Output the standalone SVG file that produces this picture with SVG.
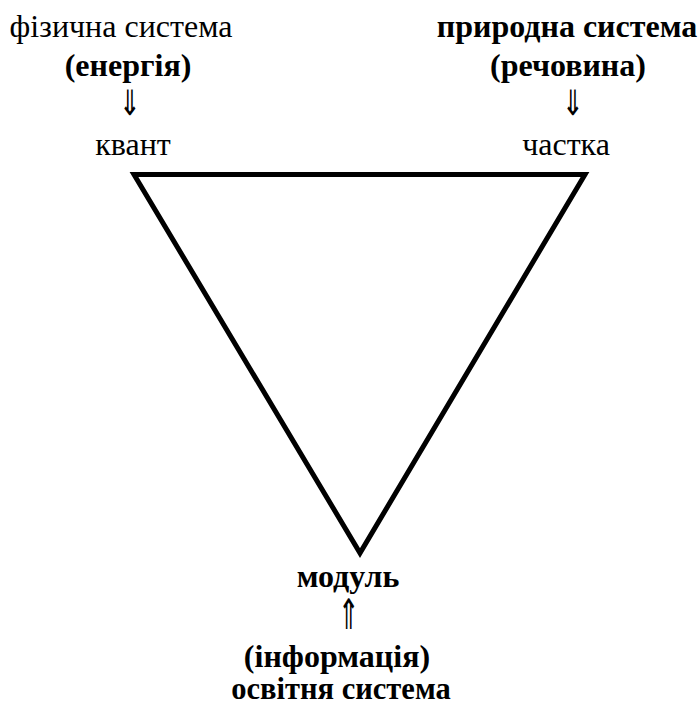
<svg xmlns="http://www.w3.org/2000/svg" width="700" height="706" viewBox="0 0 700 706">
<style>
text{font-family:'Liberation Serif','Times New Roman',serif;font-size:32px;fill:#000;text-anchor:middle}
.b{font-weight:bold}
.arr{font-size:30px;font-weight:normal}
</style>
<rect width="700" height="706" fill="#fff"/>
<g id="connectors">
<polygon points="134,174.5 585,174.5 360,553" fill="none" stroke="#000" stroke-width="5" stroke-linejoin="miter"/>
</g>
<g id="node-kvant">
<text x="121" y="37">фізична система</text>
<text x="128" y="76" class="b">(енергія)</text>
<text class="arr" transform="translate(130,115) scale(0.85,1.15)">⇓</text>
<text x="133" y="155">квант</text>
</g>
<g id="node-chastka">
<text x="567" y="37" class="b">природна система</text>
<text x="568" y="76" class="b">(речовина)</text>
<text class="arr" transform="translate(573,115) scale(0.85,1.15)">⇓</text>
<text x="566" y="155">частка</text>
</g>
<g id="node-modul">
<text x="348" y="587" class="b">модуль</text>
<text class="arr" transform="translate(348.5,629) scale(0.85,1.4)">⇑</text>
<text x="337" y="667" class="b">(інформація)</text>
<text x="341" y="699" class="b" style="font-size:30.5px">освітня система</text>
</g>
</svg>
